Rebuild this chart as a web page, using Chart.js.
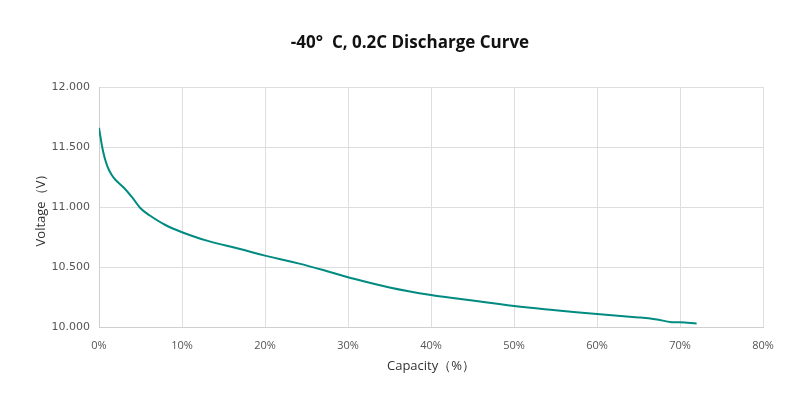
<!DOCTYPE html>
<html>
<head>
<meta charset="utf-8">
<script src="https://cdn.jsdelivr.net/npm/chart.js@4"></script>
<style>
  html, body { margin: 0; padding: 0; background: #ffffff; }
  #wrap { width: 800px; height: 400px; }
</style>
</head>
<body>
<div id="wrap"><canvas id="dischargeChart" width="800" height="400"></canvas></div>
<script>
// capacity (%) and voltage (V)
const capacity = [0, 0.5, 1, 1.5, 2, 3, 4, 5, 6, 8, 10, 13, 17, 20, 24, 27, 30, 35, 40, 45, 50, 55, 60, 65, 67, 69, 70, 72];
const voltage = [11.66, 11.46, 11.34, 11.27, 11.225, 11.16, 11.08, 10.99, 10.935, 10.85, 10.79, 10.72, 10.65, 10.595, 10.53, 10.475, 10.415, 10.33, 10.267, 10.22, 10.175, 10.14, 10.108, 10.08, 10.065, 10.04, 10.04, 10.03];
const xTicks = [0, 10, 20, 30, 40, 50, 60, 70, 80];
const yTicks = [10, 10.5, 11, 11.5, 12];
const chartTitle = '-40°  C, 0.2C Discharge Curve';

const points = capacity.map((c, i) => ({ x: c, y: voltage[i] }));

// title sits a bit right of the canvas centre in the original
const titlePlugin = {
    id: 'fixedTitle',
    afterDraw(chart) {
        const c = chart.ctx;
        c.save();
        c.font = 'bold 17px "Open Sans"';
        c.fillStyle = '#111111';
        c.textAlign = 'center';
        c.textBaseline = 'middle';
        c.fillText(chartTitle, 410, 43);
        c.restore();
    }
};

const ctx = document.getElementById('dischargeChart').getContext('2d');
new Chart(ctx, {
    type: 'scatter',
    data: {
        datasets: [{
            label: 'Voltage',
            data: points,
            showLine: true,
            borderColor: '#008b80',
            borderWidth: 2,
            pointRadius: 0,
            tension: 0.4,
            fill: false
        }]
    },
    options: {
        responsive: false,
        animation: false,
        layout: { padding: { left: 29, right: 37, top: 87, bottom: 26 } },
        plugins: {
            legend: { display: false },
            tooltip: { enabled: false },
            title: { display: false }
        },
        scales: {
            x: {
                type: 'linear',
                min: 0,
                max: 80,
                afterBuildTicks: axis => { axis.ticks = xTicks.map(v => ({ value: v })); },
                afterFit: axis => { axis.height = 47; },
                grid: { color: '#dedede', drawTicks: false },
                border: { color: '#cfcfcf' },
                ticks: {
                    padding: 12,
                    color: '#555555',
                    font: { family: 'Open Sans', size: 11 },
                    callback: v => v + '%'
                },
                title: {
                    display: true,
                    text: 'Capacity（%）',
                    color: '#333333',
                    font: { family: 'Open Sans', size: 13 },
                    padding: { top: 4, bottom: 0 }
                }
            },
            y: {
                min: 10,
                max: 12,
                afterBuildTicks: axis => { axis.ticks = yTicks.map(v => ({ value: v })); },
                afterFit: axis => { axis.width = 70; },
                grid: { color: '#dedede', drawTicks: false },
                border: { color: '#cfcfcf' },
                ticks: {
                    padding: 9,
                    color: '#555555',
                    font: { family: 'DejaVu Sans', size: 11 },
                    callback: v => v.toFixed(3)
                },
                title: {
                    display: true,
                    text: 'Voltage（V）',
                    color: '#333333',
                    font: { family: 'Open Sans', size: 13 },
                    padding: { bottom: 2 }
                }
            }
        }
    },
    plugins: [titlePlugin]
});
</script>
</body>
</html>
